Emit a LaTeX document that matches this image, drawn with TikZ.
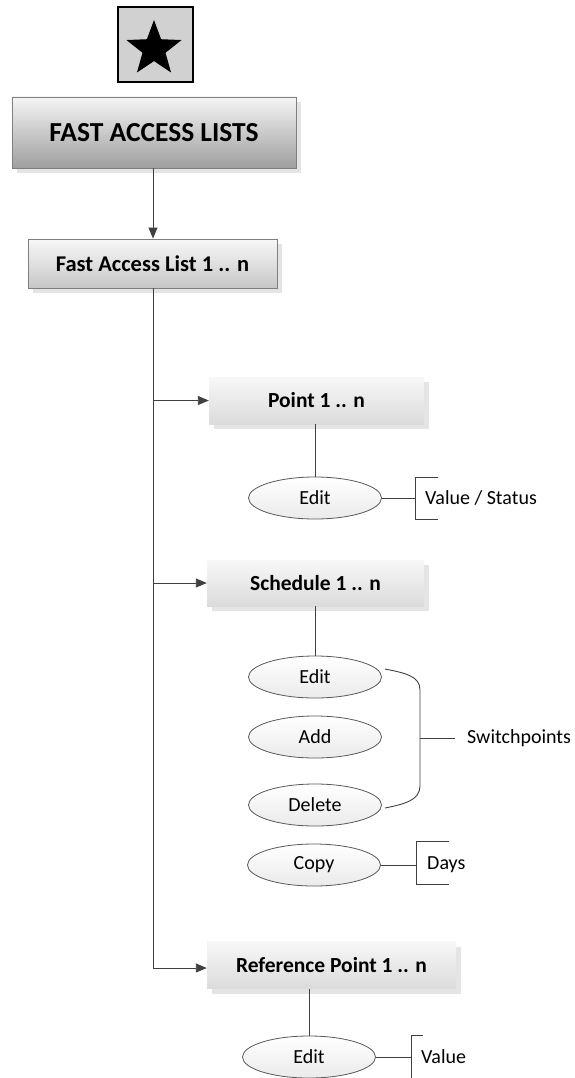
\documentclass[tikz,border=0pt]{standalone}
\usepackage{fontspec}
\setmainfont{Carlito}
\usetikzlibrary{arrows.meta,shapes.geometric,shadows}
\definecolor{linec}{HTML}{404040}
\definecolor{bordc}{HTML}{7F7F7F}
\definecolor{shadc}{HTML}{E4E4E4}
\tikzset{
  conn/.style={draw=linec, line width=0.9pt},
  arr/.style={conn, -{Triangle[length=11pt,width=9pt]}},
  shad/.style={general shadow={fill=shadc, shadow xshift=5pt, shadow yshift=-5pt}},
  topbox/.style={draw=bordc, line width=0.9pt, top color=white!96!black, bottom color=black!38, shad, font=\bfseries\fontsize{27.5}{31}\selectfont, inner sep=0pt},
  listbox/.style={draw=bordc, line width=0.9pt, top color=white!97!black, bottom color=black!22, shad, font=\bfseries\fontsize{22.5}{26}\selectfont, inner sep=0pt},
  itembox/.style={top color=white!97!black, bottom color=black!14, shad, font=\bfseries\fontsize{21.5}{25}\selectfont, inner sep=0pt},
  oval/.style={ellipse, draw=black!65, line width=0.8pt, top color=white, bottom color=black!8, minimum width=133pt, minimum height=42pt, inner sep=0pt, font=\fontsize{20}{24}\selectfont},
  lbl/.style={anchor=west, inner sep=0pt, font=\fontsize{20}{24}\selectfont},
}
\begin{document}
\begin{tikzpicture}[x=1pt,y=-1pt]
\useasboundingbox (0,0) rectangle (575,1078);
% star box
\node[draw=black, line width=2pt, fill=black!18, minimum width=75pt, minimum height=75pt, inner sep=0pt] (starbox) at (155,45) {};
\node[star, star points=5, star point ratio=2.4, fill=black, minimum size=58pt, inner sep=0pt] (star) at (154,49) {};
% top box
\node[topbox, minimum width=284pt, minimum height=71pt] (fals) at (154,132.5) {FAST ACCESS LISTS};
\node[listbox, minimum width=249pt, minimum height=49pt] (fal) at (152.5,263.5) {Fast Access List 1 .. n};
\draw[arr] (fals.south -| 153,0) -- (fal.north -| 153,0);
% items
\node[itembox, minimum width=215pt, minimum height=47pt] (point) at (316.5,400.5) {Point 1 .. n};
\node[itembox, minimum width=217pt, minimum height=46pt] (sched) at (315.5,583) {Schedule 1 .. n};
\node[itembox, minimum width=249pt, minimum height=47pt] (ref) at (331.5,965) {Reference Point 1 .. n};
% trunk
\coordinate (trunkend) at (153,968);
\draw[conn] (fal.south -| 153,0) -- (trunkend);
\draw[arr] (trunkend) -- (trunkend -| ref.west);
\draw[arr] (point.west -| 153,0) -- (point.west);
\draw[arr] (sched.west -| 153,0) -- (sched.west);
% point subtree
\node[oval] (pedit) at (315,498) {Edit};
\draw[conn] (pedit.north) -- (pedit.north |- point.south);
\node[lbl] (pval) at (425,498) {Value / Status};
\coordinate (pbr) at (415,498);
\draw[conn] (pedit.east) -- (pbr);
\draw[conn] (438,477) -- (415,477) -- (415,519) -- (438,519);
% schedule subtree
\node[oval] (sedit) at (315,677) {Edit};
\node[oval] (sadd) at (315,737) {Add};
\node[oval] (sdel) at (315,805) {Delete};
\node[oval] (scopy) at (314,865) {Copy};
\draw[conn] (sedit.north) -- (sedit.north |- sched.south);
\coordinate (brtop) at (385,669);
\coordinate (brbot) at (385,808);
\coordinate (brmid) at (420,738);
\draw[conn] (brtop) .. controls (405,673) and (420,676) .. (420,690) -- (420,786) .. controls (420,800) and (405,804) .. (brbot);
\node[lbl] (switch) at (467,738) {Switchpoints};
\draw[conn] (brmid) -- (switch.west -| 455,0);
\node[lbl] (days) at (427,865) {Days};
\coordinate (dbr) at (416,865);
\draw[conn] (scopy.east) -- (dbr);
\draw[conn] (449,841) -- (416,841) -- (416,884) -- (449,884);
% reference subtree
\node[oval] (redit) at (309,1057) {Edit};
\draw[conn] (redit.north) -- (redit.north |- ref.south);
\node[lbl] (rval) at (421,1057) {Value};
\coordinate (rbr) at (411,1057);
\draw[conn] (redit.east) -- (rbr);
\draw[conn] (423,1035) -- (411,1035) -- (411,1080);
\end{tikzpicture}
\end{document}
